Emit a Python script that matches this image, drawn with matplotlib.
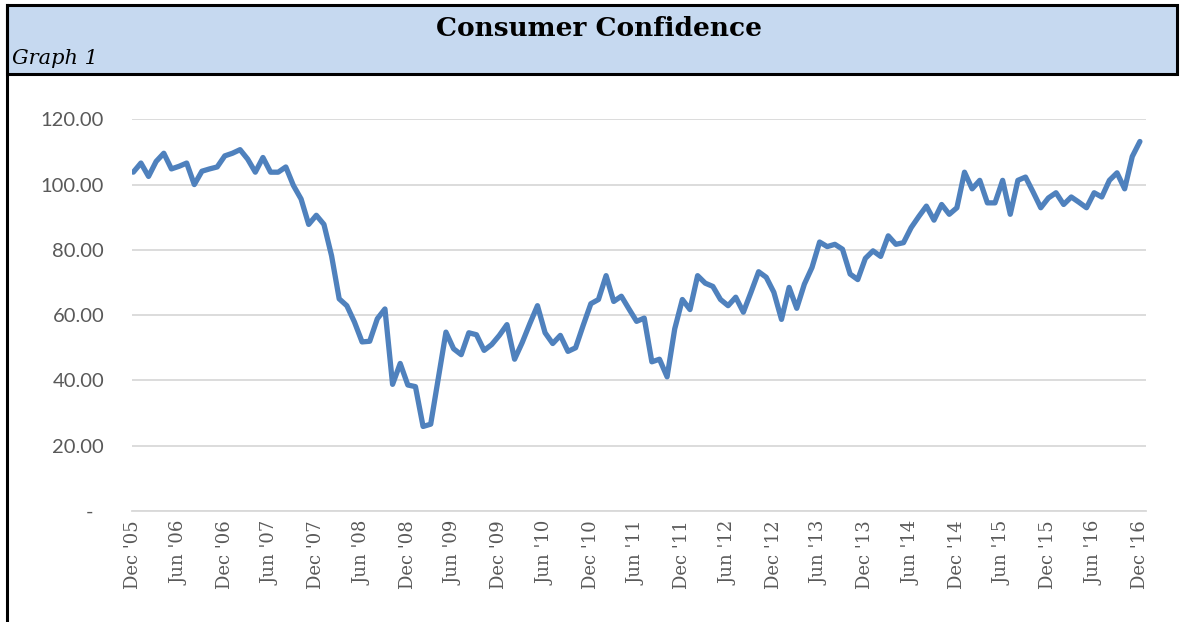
import matplotlib
matplotlib.use("Agg")
import matplotlib.pyplot as plt
from matplotlib.patches import Rectangle

# Consumer confidence index, monthly Dec 2005 - Dec 2016
values = [
    103.8, 106.6, 102.5, 107.1, 109.6, 104.8, 105.6, 106.6, 100.0, 104.1, 104.8, 105.4,
    108.8, 109.6, 110.7, 107.8, 103.8, 108.3, 103.8, 103.8, 105.4, 99.7, 95.6, 87.8,
    90.6, 87.8, 78.2, 65.0, 62.9, 57.9, 51.8, 52.0, 58.9, 61.9, 38.8, 45.2,
    38.6, 38.1, 25.9, 26.6, 40.8, 54.8, 49.7, 47.9, 54.6, 54.0, 49.2, 51.0,
    53.8, 57.1, 46.5, 51.6, 57.4, 62.9, 54.6, 51.3, 53.8, 48.9, 50.0, 56.9,
    63.5, 64.8, 72.1, 64.2, 65.8, 61.9, 58.1, 59.1, 45.7, 46.5, 41.1, 55.8,
    64.8, 61.7, 72.1, 69.8, 68.8, 64.8, 62.9, 65.5, 60.9, 67.0, 73.3, 71.6,
    67.0, 58.7, 68.5, 62.1, 69.5, 74.6, 82.4, 81.0, 81.7, 80.2, 72.6, 70.9,
    77.4, 79.7, 78.0, 84.3, 81.7, 82.2, 86.8, 90.2, 93.4, 89.1, 93.9, 90.9,
    92.9, 103.8, 98.7, 101.3, 94.4, 94.4, 101.3, 90.9, 101.3, 102.3, 97.7, 92.9,
    95.9, 97.5, 93.9, 96.2, 94.6, 92.9, 97.5, 96.2, 101.3, 103.6, 98.7, 108.6,
    113.2,
]
tick_labels = ["Dec '05", "Jun '06", "Dec '06", "Jun '07", "Dec '07", "Jun '08",
               "Dec '08", "Jun '09", "Dec '09", "Jun '10", "Dec '10", "Jun '11",
               "Dec '11", "Jun '12", "Dec '12", "Jun '13", "Dec '13", "Jun '14",
               "Dec '14", "Jun '15", "Dec '15", "Jun '16", "Dec '16"]
y_ticks = [0, 20, 40, 60, 80, 100, 120]

W, H = 1181, 622
fig = plt.figure(figsize=(W / 100, H / 100), dpi=100)

# header band
fig.patches.append(Rectangle((7 / W, 1 - 74 / H), 1170 / W, 69 / H, transform=fig.transFigure,
                             facecolor="#C6D9F0", edgecolor="black", linewidth=2.2, zorder=0))
# left border of chart box
fig.lines.append(plt.Line2D([7 / W, 7 / W], [0, 1 - 5 / H], transform=fig.transFigure,
                            color="black", linewidth=2.2))
fig.text(599 / W, 1 - 29 / H, "Consumer Confidence", ha="center", va="center",
         fontsize=19, fontweight="bold", family="DejaVu Serif", color="black")
fig.text(12 / W, 1 - 59 / H, "Graph 1", ha="left", va="center",
         fontsize=15, style="italic", family="DejaVu Serif", color="black")

ax = fig.add_axes([132 / W, 1 - 511 / H, 1014 / W, (511 - 119.3) / H])
x = list(range(len(values)))
ax.plot(x, values, color="#4F81BD", linewidth=3.8, solid_joinstyle="round",
        solid_capstyle="round", zorder=3)

ax.set_xlim(-0.17, 132.8)
ax.set_ylim(0, 120)
ax.set_yticks(y_ticks)
ax.set_yticklabels(["-  "] + ["%.2f" % v for v in y_ticks[1:]], family="Lato",
                   fontsize=14.5, color="#595959")
ax.set_xticks(list(range(0, 133, 6)))
ax.set_xticklabels(tick_labels, rotation=90, family="DejaVu Serif",
                   fontsize=13, color="#595959")
ax.tick_params(axis="y", length=0, pad=20)
ax.tick_params(axis="x", length=0, pad=7)
ax.grid(axis="y", color="#D9D9D9", linewidth=1.3)
ax.set_axisbelow(True)
for s in ["top", "right", "left"]:
    ax.spines[s].set_visible(False)
ax.spines["bottom"].set_color("#D9D9D9")
ax.spines["bottom"].set_linewidth(1.3)

fig.savefig("out.png", dpi=100)
